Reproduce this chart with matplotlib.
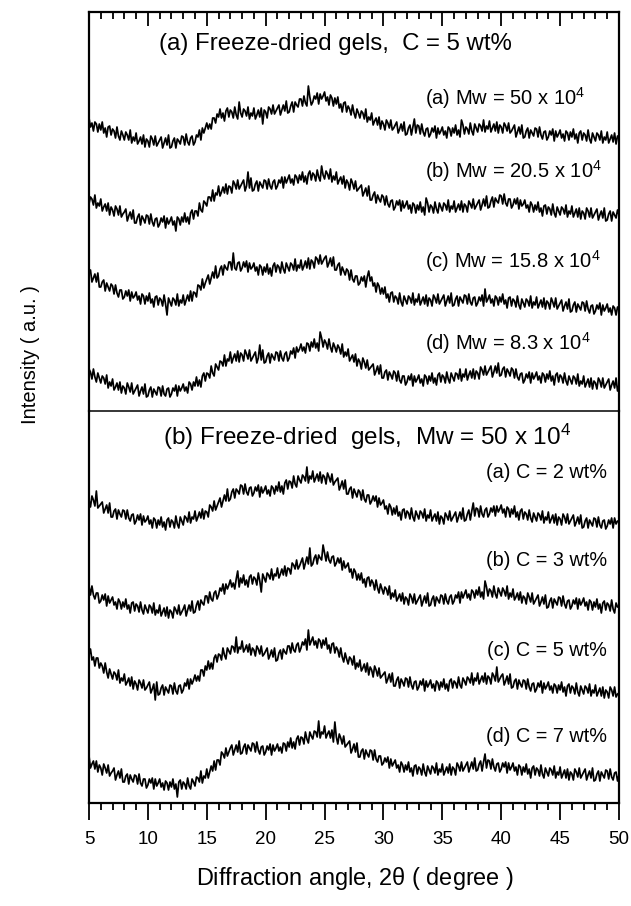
import numpy as np
import matplotlib
matplotlib.use("Agg")
import matplotlib.pyplot as plt
from matplotlib.ticker import MultipleLocator

plt.rcParams['font.family'] = ['Liberation Sans', 'DejaVu Sans']
plt.rcParams['mathtext.fontset'] = 'custom'
plt.rcParams['mathtext.rm'] = 'Liberation Sans'
plt.rcParams['mathtext.it'] = 'Liberation Sans'

# ---------------- data (intensity, a.u.; 2theta = 5..50 deg, step 0.125) ----------------
theta_min, theta_max = 5, 50

mw_50 = [34,25,29,21,30,28,20,28, 22,30,19,24,15,25,26,17, 23,21,14,25,16,12,21,17,
         12,20,17,12,22,9,15,11, 19,8,11,15,8,17,5,13, 11,5,16,13,7,16,6,9,
         12,15,4,9,14,7,17,4, 5,11,14,4,13,11,8,16, 15,7,18,10,7,14,16,7,
         10,17,15,22,12,24,19,24, 29,23,28,23,34,34,29,38, 35,43,34,39,31,41,44,35,
         42,40,34,45,37,33,50,39, 35,43,41,36,45,33,39,36, 44,33,37,42,35,44,28,42,
         40,34,45,43,38,47,38,41, 44,47,37,42,47,41,51,39, 40,46,50,40,50,47,45,53,
         53,46,56,49,46,66,55,47, 50,56,53,59,48,58,53,56, 60,51,55,47,57,54,46,54,
         48,55,44,48,40,49,50,40, 46,43,37,47,39,34,43,39, 34,41,39,33,43,30,35,32,
         39,27,31,34,27,35,23,31, 28,22,32,29,24,32,22,24, 27,30,19,23,28,21,30,17,
         18,24,27,17,25,33,19,27, 26,18,28,20,16,23,24,15, 18,24,20,26,14,24,18,21,
         25,17,21,14,25,23,16,24, 19,27,17,22,15,32,27,18, 25,23,18,29,21,17,28,24,
         20,28,26,21,32,20,26,23, 31,20,24,28,21,30,19,27, 25,19,29,26,21,29,19,21,
         24,27,15,20,25,18,27,14, 15,21,24,14,22,19,16,24, 23,15,25,17,13,20,21,12,
         15,21,17,23,11,21,15,18, 22,14,18,11,21,19,12,20, 15,23,13,18,9,19,21,12,
         19,17,11,22,13,9,19,15, 11,19,17,12,21,9,15,12, 20,9,13,17,10,19,8,16, 14]
mw_20_5 = [28,35,33,27,37,24,29,26, 33,21,25,28,21,29,17,25, 22,16,26,23,17,26,15,18,
           20,23,11,16,20,13,22,9, 9,15,18,7,16,13,9,17, 16,8,18,10,6,13,14,5,
           8,14,10,16,4,14,8,11, 15,7,11,1,15,13,7,15, 10,19,10,15,8,19,22,13,
           21,21,16,29,22,20,31,29, 26,35,35,31,42,31,39,37, 46,36,40,45,39,48,38,46,
           45,39,51,48,43,52,43,46, 49,52,41,46,60,44,54,41, 42,48,51,41,50,47,44,52,
           51,43,53,46,43,50,52,43, 46,52,49,55,44,55,49,53, 57,49,53,47,57,55,49,57,
           52,60,50,56,48,58,61,52, 59,57,51,62,55,51,66,57, 53,61,58,53,63,50,56,52,
           60,48,52,55,48,56,44,52, 49,42,53,49,43,51,41,43, 45,47,36,40,44,36,46,32,
           32,37,40,29,37,33,30,37, 35,27,36,28,25,31,32,22, 25,31,27,32,21,31,24,27,
           31,23,27,19,29,27,19,27, 22,30,20,25,17,34,29,20, 27,25,19,30,23,19,29,25,
           21,29,27,22,32,20,26,23, 31,20,24,28,22,31,20,28, 26,20,31,28,24,33,23,26,
           29,32,22,27,33,26,36,24, 25,31,35,25,34,31,29,37, 36,28,38,29,26,33,33,24,
           27,33,28,34,23,32,26,28, 32,24,27,20,30,27,20,27, 22,30,20,24,16,26,27,18,
           25,23,17,28,19,15,25,21, 17,25,23,18,27,15,21,18, 26,15,19,23,15,24,13,21,
           19,13,24,21,15,24,14,17, 20,23,12,17,21,14,24,11, 12,18,21,11,20,17,14,22, 17]
mw_15_8 = [48,50,38,42,46,38,47,33, 33,38,40,29,37,33,29,36, 34,26,35,27,23,30,30,21,
           23,29,24,30,19,28,22,24, 28,20,24,16,26,24,16,24, 19,27,17,21,13,23,24,15,
           22,20,14,25,16,5,22,18, 14,22,20,15,26,14,20,17, 25,15,20,25,19,29,19,28,
           27,23,35,34,30,41,32,37, 41,45,36,42,48,42,54,42, 44,51,54,45,55,52,50,58,
           58,50,67,52,50,57,58,49, 52,58,53,59,48,57,51,53, 57,49,53,45,55,53,45,53,
           48,56,46,52,44,54,57,48, 55,53,47,58,51,47,57,53, 49,57,55,50,61,49,55,52,
           60,50,54,59,52,62,51,60, 58,52,63,61,56,65,56,59, 62,64,53,57,62,54,63,50,
           50,55,57,45,53,49,45,51, 49,40,50,41,38,44,44,35, 37,43,39,44,33,43,49,39,
           43,34,37,28,37,34,26,32, 26,33,22,26,18,27,28,18, 24,22,16,27,18,14,24,20,
           16,24,22,17,27,15,21,18, 26,15,19,23,16,25,14,22, 20,14,25,22,17,26,16,19,
           22,25,14,19,24,17,27,14, 15,21,24,14,23,20,17,25, 24,16,26,18,15,22,23,14,
           17,23,19,25,14,31,18,21, 25,17,21,14,24,22,15,23, 18,26,16,20,12,22,23,14,
           21,19,13,24,15,11,21,17, 13,21,19,14,24,12,18,15, 23,12,16,20,13,22,11,19,
           17,11,22,18,13,22,11,14, 17,20,9,14,18,11,21,8, 9,15,18,8,16,13,10,18,
           17,9,19,11,7,14,15,6, 9,15,11,17,5,15,9,12, 16,8,12,5,14,12,5,13, 10]
mw_8_3 = [33,30,23,33,25,20,29,24, 19,26,24,18,27,14,20,16, 23,12,15,19,12,20,9,16,
          14,8,19,15,10,19,8,11, 14,17,6,11,15,8,18,5, 6,12,15,5,13,10,7,15,
          14,6,16,8,6,13,14,5, 8,14,11,17,6,16,11,14, 18,11,15,9,20,18,12,20,
          16,25,16,22,15,26,29,21, 29,28,24,36,29,26,38,35, 32,41,40,36,47,36,43,41,
          50,39,44,48,41,51,40,49, 47,41,52,48,43,52,41,44, 47,50,39,44,57,42,52,39,
          40,46,49,39,48,45,42,50, 49,41,51,44,41,48,50,41, 44,51,48,54,44,55,50,53,
          58,51,55,49,59,58,51,60, 55,63,54,59,51,70,64,55, 62,59,53,63,55,50,59,55,
          50,57,54,48,58,45,50,46, 53,41,44,47,40,48,36,43, 40,33,44,40,34,42,32,34,
          36,38,27,31,36,28,37,24, 24,30,32,22,30,27,23,31, 29,21,31,22,19,26,26,17,
          20,26,22,28,16,26,20,23, 27,19,23,16,27,25,18,26, 21,29,19,24,17,27,29,20,
          27,25,19,30,23,19,29,25, 21,29,28,23,33,21,28,25, 33,22,27,31,24,33,23,31,
          29,23,35,32,27,36,27,30, 33,36,25,30,36,29,39,26, 27,33,35,25,33,30,26,34,
          32,24,33,25,22,28,29,19, 22,28,24,30,19,29,23,26, 30,22,26,19,29,27,20,28,
          23,31,21,26,17,27,29,20, 27,25,19,29,21,17,26,22, 18,26,24,18,28,16,21,18,
          26,15,19,23,15,24,13,21, 19,13,24,21,15,24,14,17, 20,23,12,17,21,14,24,11, 17]

c_2 = [33,26,37,33,27,42,25,27, 29,31,20,24,28,20,30,16, 16,22,24,14,23,19,16,23,
       22,14,23,15,12,18,19,9, 12,18,13,19,8,17,11,13, 17,9,13,5,15,13,5,13,
       8,16,6,11,3,13,15,6, 13,11,5,17,9,5,16,12, 8,17,15,11,21,10,16,14,
       22,12,16,21,15,24,14,22, 21,16,28,26,22,32,23,27, 31,35,26,32,38,32,44,32,
       34,41,44,35,44,42,39,48, 47,39,49,41,38,45,46,37, 40,46,42,48,36,46,40,43,
       47,39,43,37,47,45,39,47, 42,51,41,47,39,50,53,44, 52,51,45,57,49,46,57,53,
       50,58,56,52,66,50,57,54, 62,51,55,59,52,61,50,58, 56,49,60,56,51,59,48,51,
       53,55,43,47,52,44,53,39, 39,44,46,35,44,40,36,43, 41,33,43,34,31,38,38,29,
       32,37,32,37,26,35,28,30, 33,24,27,19,29,26,18,25, 19,27,17,21,13,23,24,15,
       22,20,14,25,16,12,22,18, 14,22,20,15,24,12,18,15, 23,12,16,19,12,21,9,17,
       15,9,20,17,13,22,12,15, 18,21,11,16,21,14,25,12, 13,19,23,13,22,30,17,25,
       24,16,27,19,16,23,25,16, 19,25,21,27,17,27,21,24, 28,20,24,16,26,24,16,24,
       19,27,16,21,13,22,24,14, 21,19,13,23,15,11,20,16, 12,20,18,13,22,10,16,13,
       21,10,14,18,10,19,8,16, 14,8,19,16,10,19,9,12, 15,18,7,11,16,9,18,5,
       6,12,15,5,13,10,7,15, 14,6,16,8,5,12,13,4, 7,13,9,15,5,15,9,12, 11]
c_3 = [36,27,36,27,23,29,29,19, 21,27,22,28,16,26,19,22, 25,17,20,13,23,20,13,20,
       15,23,13,17,9,19,20,11, 18,16,10,20,12,8,17,13, 9,17,15,9,19,7,12,9,
       17,6,10,14,6,15,4,12, 10,4,15,12,8,17,7,10, 13,17,6,12,17,11,21,9,
       10,17,21,12,22,19,17,26, 26,19,30,23,21,29,31,23, 27,34,31,38,28,38,33,37,
       42,35,39,33,43,51,35,44, 39,47,37,42,35,45,47,38, 45,43,37,49,41,30,48,44,
       40,49,47,43,53,42,48,46, 54,44,48,53,47,56,46,54, 53,48,59,57,53,62,53,56,
       60,64,53,59,65,58,74,56, 58,64,67,58,67,64,62,77, 69,61,70,62,59,65,66,56,
       59,64,59,64,52,61,54,56, 59,50,53,44,53,50,42,48, 42,49,39,43,35,44,45,36,
       42,39,32,42,34,29,38,33, 28,35,33,27,36,23,29,25, 32,21,24,28,21,29,18,25,
       23,17,28,25,19,28,18,21, 24,27,16,21,26,19,29,16, 17,23,26,16,25,22,19,27,
       26,18,28,21,18,25,27,18, 21,27,24,30,19,30,24,28, 32,24,28,22,32,30,24,32,
       27,35,25,30,23,41,35,26, 33,31,25,36,28,24,34,30, 26,34,31,26,36,23,29,25,
       33,22,25,29,22,30,19,26, 24,18,29,25,20,29,18,21, 24,27,16,20,25,18,27,14,
       15,21,24,14,23,20,17,25, 24,16,26,18,14,21,22,13, 16,22,18,24,13,23,17,20,
       24,16,20,12,22,20,12,20, 15,23,13,18,9,19,21,12, 19,17,11,22,13,9,19,15, 15]
c_5 = [48,54,43,46,37,45,45,35, 40,37,30,40,31,25,34,29, 24,31,29,23,33,20,25,22,
       29,18,21,25,17,26,14,22, 19,13,23,20,15,23,13,15, 18,21,10,14,19,3,21,8,
       9,15,18,8,16,13,10,18, 17,9,20,12,9,17,18,10, 13,20,17,24,14,24,19,23,
       28,22,27,22,33,33,27,37, 33,42,34,40,34,45,48,41, 49,48,43,55,48,44,55,52,
       49,57,56,51,66,50,56,54, 62,51,54,58,51,59,48,55, 53,47,57,54,49,57,47,49,
       52,55,44,48,53,46,55,42, 43,50,53,44,54,51,49,57, 57,50,60,53,51,58,60,51,
       55,61,58,64,53,73,58,62, 66,58,62,55,64,62,55,63, 58,65,54,58,50,59,60,50,
       56,53,46,55,46,41,50,44, 39,46,44,38,47,34,40,36, 43,32,35,39,31,40,28,36,
       33,26,37,33,27,35,25,27, 29,31,20,24,29,21,30,17, 17,23,26,15,24,21,17,25,
       24,16,26,18,14,21,22,13, 16,22,18,24,12,22,16,19, 23,15,19,12,22,20,13,21,
       16,24,14,19,12,22,24,15, 22,20,15,26,18,15,25,22, 18,26,24,20,30,18,25,22,
       30,19,23,27,21,30,19,27, 25,19,30,27,22,36,21,24, 27,29,18,22,27,19,29,15,
       16,22,24,14,23,19,16,23, 22,14,24,16,12,19,20,11, 14,20,16,22,10,20,14,17,
       21,13,17,10,19,17,10,18, 13,21,11,16,7,17,19,10, 17,15,9,20,11,7,17,13,
       9,17,15,10,19,7,13,10, 18,7,11,15,7,16,5,13, 11,5,16,13,7,16,6,9, 10]
c_7 = [39,27,31,34,26,34,23,30, 27,20,31,27,22,30,19,22, 24,27,15,20,24,17,26,13,
       13,19,21,11,20,16,13,20, 19,11,21,12,9,16,16,7, 10,16,12,17,6,16,9,12,
       16,8,12,5,14,12,5,13, 8,16,6,11,-2,13,15,6, 13,11,6,17,9,6,16,13,
       9,18,17,13,24,12,19,17, 26,17,23,29,24,34,25,35, 35,30,43,41,37,47,39,43,
       47,50,40,45,50,43,54,41, 42,48,51,41,50,47,44,52, 51,43,53,45,41,48,49,40,
       43,49,45,51,40,50,44,47, 51,44,48,42,52,51,44,53, 48,57,47,53,46,56,59,50,
       58,57,51,63,56,52,63,59, 56,64,63,58,74,57,63,61, 69,57,61,64,57,65,53,73,
       58,51,61,57,51,59,48,50, 52,54,42,46,51,43,52,38, 38,44,46,36,45,41,38,45,
       44,35,45,36,33,39,39,30, 32,37,33,38,27,36,29,32, 35,27,30,23,33,30,23,30,
       25,33,23,27,19,29,30,21, 28,26,20,31,23,19,29,25, 21,29,27,22,32,20,26,23,
       31,20,24,28,22,31,20,28, 26,20,32,29,24,33,24,27, 30,33,23,28,33,26,37,24,
       25,31,34,24,33,41,27,35, 34,26,36,28,24,31,32,23, 26,32,28,33,22,32,25,28,
       32,24,28,20,30,28,20,28, 23,31,21,26,17,27,29,20, 27,25,19,30,21,17,27,23,
       19,27,25,20,29,17,23,20, 28,17,21,25,17,26,15,23, 21,15,26,23,18,27,17,20,
       23,26,15,20,24,17,27,14, 15,21,24,14,23,20,17,25, 24,16,26,18,15,22,23,14, 20]

top_series = [mw_50, mw_20_5, mw_15_8, mw_8_3]
top_labels = [r'(a) Mw = 50 x 10$^{4}$', r'(b) Mw = 20.5 x 10$^{4}$',
              r'(c) Mw = 15.8 x 10$^{4}$', r'(d) Mw = 8.3 x 10$^{4}$']
bot_series = [c_2, c_3, c_5, c_7]
bot_labels = ['(a) C = 2 wt%', '(b) C = 3 wt%', '(c) C = 5 wt%', '(d) C = 7 wt%']
x_ticks = [5, 10, 15, 20, 25, 30, 35, 40, 45, 50]

# ---------------- layout ----------------
top_offsets = [259, 179, 91, 9]
top_label_y = [313, 240, 150, 68]
bot_offsets = [270, 181, 100, 8]
bot_label_y = [331, 243, 153, 66]

W, H = 631, 906
fig = plt.figure(figsize=(W / 100, H / 100), dpi=100)
L, R = 89 / W, 619 / W
ax1 = fig.add_axes([L, 1 - 411 / H, R - L, 399 / H])
ax2 = fig.add_axes([L, 1 - 803 / H, R - L, 392 / H])
ax2.patch.set_visible(False)

for ax, series, offs in ((ax1, top_series, top_offsets), (ax2, bot_series, bot_offsets)):
    for vals, off in zip(series, offs):
        v = np.asarray(vals, dtype=float)
        x = np.linspace(theta_min, theta_max, len(v))
        ax.plot(x, v + off, color='black', lw=1.25)
    ax.set_xlim(theta_min, theta_max)
    ax.set_yticks([])
    ax.xaxis.set_major_locator(MultipleLocator(5))
    ax.xaxis.set_minor_locator(MultipleLocator(1))
    for s in ax.spines.values():
        s.set_linewidth(1.6)

ax1.set_ylim(0, 399)
ax2.set_ylim(0, 392)

ax1.tick_params(axis='x', which='both', top=True, bottom=False, labelbottom=False,
                direction='in', width=1.3)
ax1.tick_params(axis='x', which='major', length=10)
ax1.tick_params(axis='x', which='minor', length=5)
ax1.spines['bottom'].set_linewidth(1.1)

ax2.spines['top'].set_visible(False)
ax2.tick_params(axis='x', which='both', top=False, bottom=True, direction='out', width=1.3)
ax2.tick_params(axis='x', which='major', length=12, labelsize=13.5, pad=8)
ax2.tick_params(axis='x', which='minor', length=5)
ax2.set_xticks(x_ticks)
ax2.set_xticklabels([str(t) for t in x_ticks])

ax1.text(25.9, 367, '(a) Freeze-dried gels,  C = 5 wt%', ha='center', va='center', fontsize=17.3)
for lab, y in zip(top_labels, top_label_y):
    ax1.text(33.5, y, lab, ha='left', va='center', fontsize=14.5)

ax2.text(28.6, 366, r'(b) Freeze-dried  gels,  Mw = 50 x 10$^{4}$', ha='center', va='center', fontsize=17.5)
for lab, y in zip(bot_labels, bot_label_y):
    ax2.text(49.0, y, lab, ha='right', va='center', fontsize=14.3)

fig.text(30 / W, 1 - 355 / H, 'Intensity ( a.u. )', rotation=90, ha='center', va='center', fontsize=14.5)
fig.text(355 / W, 1 - 878 / H, r'Diffraction angle, 2$\mathrm{\theta}$ ( degree )', ha='center', va='center', fontsize=16.9)

fig.savefig('out.png', dpi=100)
